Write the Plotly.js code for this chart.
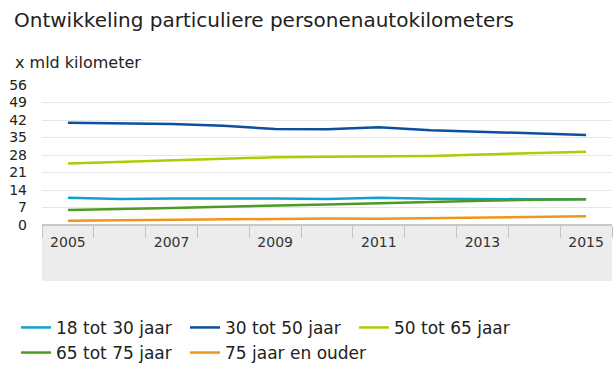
<!DOCTYPE html>
<html><head><meta charset="utf-8">
<script src="https://cdn.plot.ly/plotly-3.0.1.min.js"></script>
<style>html,body{margin:0;padding:0;background:#fff}#chart{width:616px;height:377px}</style>
</head><body><div id="chart"></div>
<script>
const years = ['2005','2006','2007','2008','2009','2010','2011','2012','2013','2014','2015'];
const tickLabels = ['2005','','2007','','2009','','2011','','2013','','2015'];
const seriesNames = ['18 tot 30 jaar','30 tot 50 jaar','50 tot 65 jaar','65 tot 75 jaar','75 jaar en ouder'];
const age18to30 = [10.9,10.4,10.6,10.7,10.6,10.4,10.9,10.5,10.3,10.3,10.3];
const age30to50 = [40.9,40.6,40.4,39.7,38.4,38.3,39.1,37.9,37.2,36.8,36.0];
const age50to65 = [24.6,25.2,25.7,26.2,27.1,27.3,27.6,27.6,28.2,28.9,29.3];
const age65to75 = [6.0,6.3,6.8,7.3,7.9,8.2,8.7,9.3,9.7,10.1,10.3];
const age75plus = [1.7,1.9,2.1,2.3,2.6,2.6,2.5,2.8,3.1,3.3,3.5];
const colors = ['#12a0cc','#0b4f9e','#afcb05','#4f9a25','#f0961a'];
const allSeries = [age18to30, age30to50, age50to65, age65to75, age75plus];

const traces = allSeries.map((vals, i) => ({
  type: 'scatter', mode: 'lines', x: years, y: vals, name: seriesNames[i],
  line: {color: colors[i], width: 2.5}, hoverinfo: 'skip'
}));

const font = 'DejaVu Sans, Verdana, sans-serif';
const layout = {
  width: 616, height: 377,
  margin: {l: 42, r: 4, t: 85, b: 152},
  paper_bgcolor: '#fff', plot_bgcolor: 'rgba(0,0,0,0)',
  font: {family: font, color: '#222', size: 13},
  showlegend: true,
  legend: {orientation: 'h', xref: 'container', yref: 'container', x: 0.026, y: 0.178, yanchor: 'top',
    entrywidth: 124, entrywidthmode: 'pixels', font: {size: 17, family: font, color: '#222'},
    traceorder: 'normal', tracegroupgap: 0, bgcolor: 'rgba(0,0,0,0)'},
  xaxis: {type: 'category', tickmode: 'array', tickvals: years, ticktext: tickLabels,
    tickson: 'boundaries', ticks: 'outside', ticklen: 12, tickcolor: '#c4c4c4', tickwidth: 1,
    ticklabelstandoff: 7,
    showgrid: false, zeroline: false, showline: false, fixedrange: true,
    range: [-0.5, 10.5], tickfont: {size: 14, color: '#333'}},
  yaxis: {range: [0, 56], tickvals: [0,7,14,21,28,35,42,49,56], showgrid: true, gridcolor: '#e6e6e6',
    gridwidth: 1, zeroline: false, ticks: '', ticklabelstandoff: 14, tickfont: {size: 14, color: '#222'},
    fixedrange: true},
  shapes: [
    {type: 'rect', xref: 'paper', yref: 'paper', x0: 0, x1: 1, y0: -0.4, y1: 0,
      fillcolor: '#ececec', line: {width: 0}, layer: 'below'},
    {type: 'line', xref: 'paper', yref: 'paper', x0: 0, x1: 1, y0: 0, y1: 0,
      line: {color: '#c8c8c8', width: 2}, layer: 'below'}
  ],
  annotations: [
    {text: 'Ontwikkeling particuliere personenautokilometers', xref: 'paper', yref: 'paper',
      x: -0.0526, xanchor: 'left', y: 1.464, yanchor: 'middle', showarrow: false,
      font: {size: 20, family: font, color: '#222'}},
    {text: 'x mld kilometer', xref: 'paper', yref: 'paper', x: -0.0509, y: 1.164,
      xanchor: 'left', yanchor: 'middle', showarrow: false, font: {size: 16, family: font, color: '#222'}}
  ]
};
Plotly.newPlot('chart', traces, layout, {displayModeBar: false, staticPlot: true});
</script></body></html>
